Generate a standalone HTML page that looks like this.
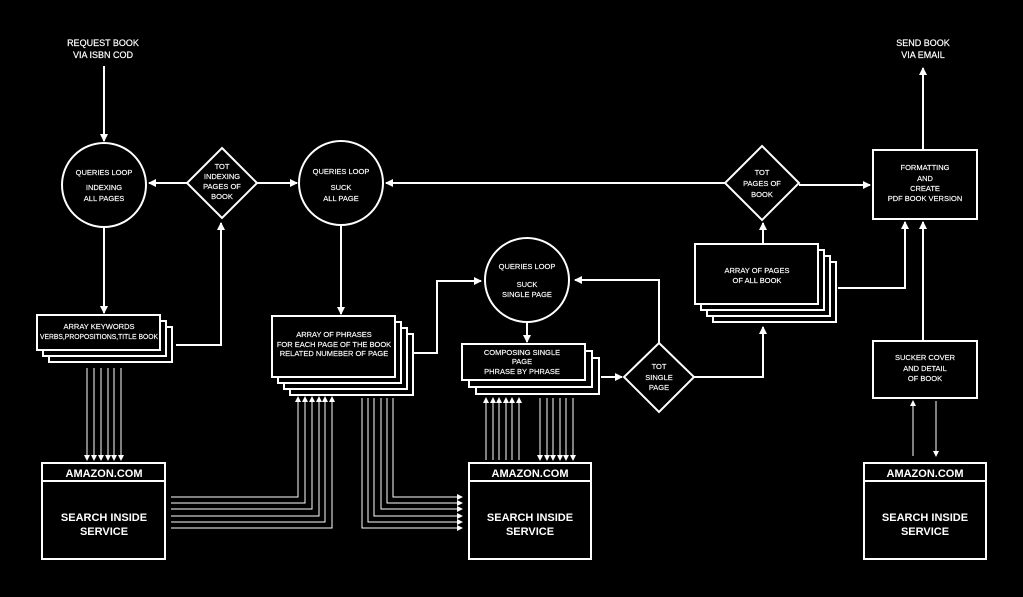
<!DOCTYPE html>
<html><head><meta charset="utf-8"><style>
html,body{margin:0;padding:0;background:#000;}
svg{display:block}
text{font-family:"Liberation Sans",sans-serif;fill:#fff;text-anchor:middle}
.s{font-size:7.5px;stroke:#fff;stroke-width:0.15}
.m{font-size:9px;stroke:#fff;stroke-width:0.2}
.b{font-size:11px;font-weight:bold}
</style></head><body>
<svg width="1023" height="597" viewBox="0 0 1023 597" xmlns="http://www.w3.org/2000/svg">
<defs>
<marker id="a" markerWidth="8" markerHeight="8" refX="7" refY="4" orient="auto" markerUnits="userSpaceOnUse"><path d="M0,0 L8,4 L0,8 z" fill="#fff"/></marker>
<marker id="t" markerWidth="6" markerHeight="6" refX="5" refY="3" orient="auto" markerUnits="userSpaceOnUse"><path d="M0,0 L6,3 L0,6 z" fill="#fff"/></marker>
</defs>
<g stroke="#fff" fill="none" stroke-width="2">
<line x1="104" y1="66" x2="104" y2="141" marker-end="url(#a)"/>
<circle cx="104" cy="185" r="42"/>
<path d="M222,148 L257,183 L222,218 L187,183 Z"/>
<line x1="187" y1="183" x2="149" y2="183" marker-end="url(#a)"/>
<line x1="257" y1="183" x2="297" y2="183" marker-end="url(#a)"/>
<circle cx="341" cy="183" r="42"/>
<line x1="725" y1="183" x2="386" y2="183" marker-end="url(#a)"/>
<path d="M762,146 L799,183 L762,220 L725,183 Z"/>
<line x1="799" y1="185" x2="870" y2="185" marker-end="url(#a)"/>
<rect x="873" y="150" width="104" height="69"/>
<line x1="923" y1="150" x2="923" y2="68" marker-end="url(#a)"/>
<line x1="104" y1="228" x2="104" y2="313" marker-end="url(#a)"/>
<rect x="49" y="327" width="123" height="35" fill="#000"/>
<rect x="43" y="321" width="123" height="35" fill="#000"/>
<rect x="37" y="315" width="123" height="35" fill="#000"/>
<path d="M176,345 L221,345 L221,223" marker-end="url(#a)"/>
<line x1="341" y1="226" x2="341" y2="314" marker-end="url(#a)"/>
<rect x="290" y="334" width="123" height="61" fill="#000"/>
<rect x="284" y="328" width="123" height="61" fill="#000"/>
<rect x="278" y="322" width="123" height="61" fill="#000"/>
<rect x="272" y="316" width="123" height="61" fill="#000"/>
<path d="M413,353 L437,353 L437,281 L481,281" marker-end="url(#a)"/>
<circle cx="527" cy="280" r="42"/>
<line x1="527" y1="322" x2="527" y2="342" marker-end="url(#a)"/>
<rect x="476" y="358" width="123" height="36" fill="#000"/>
<rect x="469" y="351" width="123" height="36" fill="#000"/>
<rect x="462" y="344" width="123" height="36" fill="#000"/>
<line x1="601" y1="377" x2="622" y2="377" marker-end="url(#a)"/>
<path d="M659,343 L694,377 L659,412 L624,377 Z"/>
<path d="M659,343 L659,280 L575,280" marker-end="url(#a)"/>
<path d="M694,377 L763,377 L763,327" marker-end="url(#a)"/>
<rect x="713" y="262" width="123" height="60" fill="#000"/>
<rect x="707" y="256" width="123" height="60" fill="#000"/>
<rect x="701" y="250" width="123" height="60" fill="#000"/>
<rect x="695" y="244" width="123" height="60" fill="#000"/>
<line x1="763" y1="244" x2="763" y2="223" marker-end="url(#a)"/>
<path d="M838,288 L905,288 L905,222" marker-end="url(#a)"/>
<rect x="873" y="341" width="104" height="57"/>
<line x1="923" y1="341" x2="923" y2="222" marker-end="url(#a)"/>
<rect x="42" y="463" width="123" height="96"/><line x1="42" y1="481" x2="165" y2="481"/>
<rect x="469" y="463" width="122" height="96"/><line x1="469" y1="481" x2="591" y2="481"/>
<rect x="864" y="463" width="122" height="96"/><line x1="864" y1="481" x2="986" y2="481"/>
</g>
<g stroke="#fff" fill="none" stroke-width="1">
<line x1="87" y1="368" x2="87" y2="460" marker-end="url(#t)"/>
<line x1="94" y1="368" x2="94" y2="460" marker-end="url(#t)"/>
<line x1="101" y1="368" x2="101" y2="460" marker-end="url(#t)"/>
<line x1="108" y1="368" x2="108" y2="460" marker-end="url(#t)"/>
<line x1="114" y1="368" x2="114" y2="460" marker-end="url(#t)"/>
<line x1="121" y1="368" x2="121" y2="460" marker-end="url(#t)"/>
<path d="M171,497 L298,497 L298,397" marker-end="url(#t)"/>
<path d="M171,503 L305,503 L305,397" marker-end="url(#t)"/>
<path d="M171,509 L312,509 L312,397" marker-end="url(#t)"/>
<path d="M171,516 L319,516 L319,397" marker-end="url(#t)"/>
<path d="M171,522 L325,522 L325,397" marker-end="url(#t)"/>
<path d="M171,528 L332,528 L332,397" marker-end="url(#t)"/>
<path d="M393,398 L393,497 L462,497" marker-end="url(#t)"/>
<path d="M387,398 L387,503 L462,503" marker-end="url(#t)"/>
<path d="M381,398 L381,509 L462,509" marker-end="url(#t)"/>
<path d="M374,398 L374,516 L462,516" marker-end="url(#t)"/>
<path d="M368,398 L368,522 L462,522" marker-end="url(#t)"/>
<path d="M362,398 L362,528 L462,528" marker-end="url(#t)"/>
<line x1="486" y1="460" x2="486" y2="398" marker-end="url(#t)"/>
<line x1="493" y1="460" x2="493" y2="398" marker-end="url(#t)"/>
<line x1="499" y1="460" x2="499" y2="398" marker-end="url(#t)"/>
<line x1="506" y1="460" x2="506" y2="398" marker-end="url(#t)"/>
<line x1="512" y1="460" x2="512" y2="398" marker-end="url(#t)"/>
<line x1="519" y1="460" x2="519" y2="398" marker-end="url(#t)"/>
<line x1="540" y1="398" x2="540" y2="460" marker-end="url(#t)"/>
<line x1="547" y1="398" x2="547" y2="460" marker-end="url(#t)"/>
<line x1="553" y1="398" x2="553" y2="460" marker-end="url(#t)"/>
<line x1="560" y1="398" x2="560" y2="460" marker-end="url(#t)"/>
<line x1="566" y1="398" x2="566" y2="460" marker-end="url(#t)"/>
<line x1="573" y1="398" x2="573" y2="460" marker-end="url(#t)"/>
<line x1="913" y1="456" x2="913" y2="401" marker-end="url(#t)"/>
<line x1="936" y1="401" x2="936" y2="456" marker-end="url(#t)"/>
</g>
<text class="m" x="103" y="46">REQUEST BOOK</text><text class="m" x="103" y="58">VIA ISBN COD</text>
<text class="m" x="923" y="46">SEND BOOK</text><text class="m" x="923" y="58">VIA EMAIL</text>
<text class="s" x="104" y="175">QUERIES LOOP</text><text class="s" x="104" y="190">INDEXING</text><text class="s" x="104" y="201">ALL PAGES</text>
<text class="s" x="222" y="169">TOT</text><text class="s" x="222" y="179">INDEXING</text><text class="s" x="222" y="189">PAGES OF</text><text class="s" x="222" y="199">BOOK</text>
<text class="s" x="341" y="174">QUERIES LOOP</text><text class="s" x="341" y="190">SUCK</text><text class="s" x="341" y="201">ALL PAGE</text>
<text class="s" x="762" y="175">TOT</text><text class="s" x="762" y="186">PAGES OF</text><text class="s" x="762" y="197">BOOK</text>
<text class="s" x="925" y="170">FORMATTING</text><text class="s" x="925" y="181">AND</text><text class="s" x="925" y="191">CREATE</text><text class="s" x="925" y="201">PDF BOOK VERSION</text>
<text class="s" x="99" y="329">ARRAY KEYWORDS</text><text class="s" x="99" y="339" textLength="118" lengthAdjust="spacingAndGlyphs">VERBS,PROPOSITIONS,TITLE BOOK</text>
<text class="s" x="334" y="337">ARRAY OF PHRASES</text><text class="s" x="334" y="347">FOR EACH PAGE OF THE BOOK</text><text class="s" x="334" y="356">RELATED NUMEBER OF PAGE</text>
<text class="s" x="527" y="269">QUERIES LOOP</text><text class="s" x="527" y="287">SUCK</text><text class="s" x="527" y="297">SINGLE PAGE</text>
<text class="s" x="522" y="355">COMPOSING SINGLE</text><text class="s" x="522" y="364">PAGE</text><text class="s" x="522" y="374">PHRASE BY PHRASE</text>
<text class="s" x="659" y="369">TOT</text><text class="s" x="659" y="380">SINGLE</text><text class="s" x="659" y="390">PAGE</text>
<text class="s" x="757" y="273">ARRAY OF PAGES</text><text class="s" x="757" y="283">OF ALL BOOK</text>
<text class="s" x="925" y="360">SUCKER COVER</text><text class="s" x="925" y="371">AND DETAIL</text><text class="s" x="925" y="381">OF BOOK</text>
<text class="b" x="104" y="477">AMAZON.COM</text><text class="b" x="104" y="521">SEARCH  INSIDE</text><text class="b" x="104" y="535">SERVICE</text>
<text class="b" x="530" y="477">AMAZON.COM</text><text class="b" x="530" y="521">SEARCH  INSIDE</text><text class="b" x="530" y="535">SERVICE</text>
<text class="b" x="925" y="477">AMAZON.COM</text><text class="b" x="925" y="521">SEARCH  INSIDE</text><text class="b" x="925" y="535">SERVICE</text>
</svg>
</body></html>
